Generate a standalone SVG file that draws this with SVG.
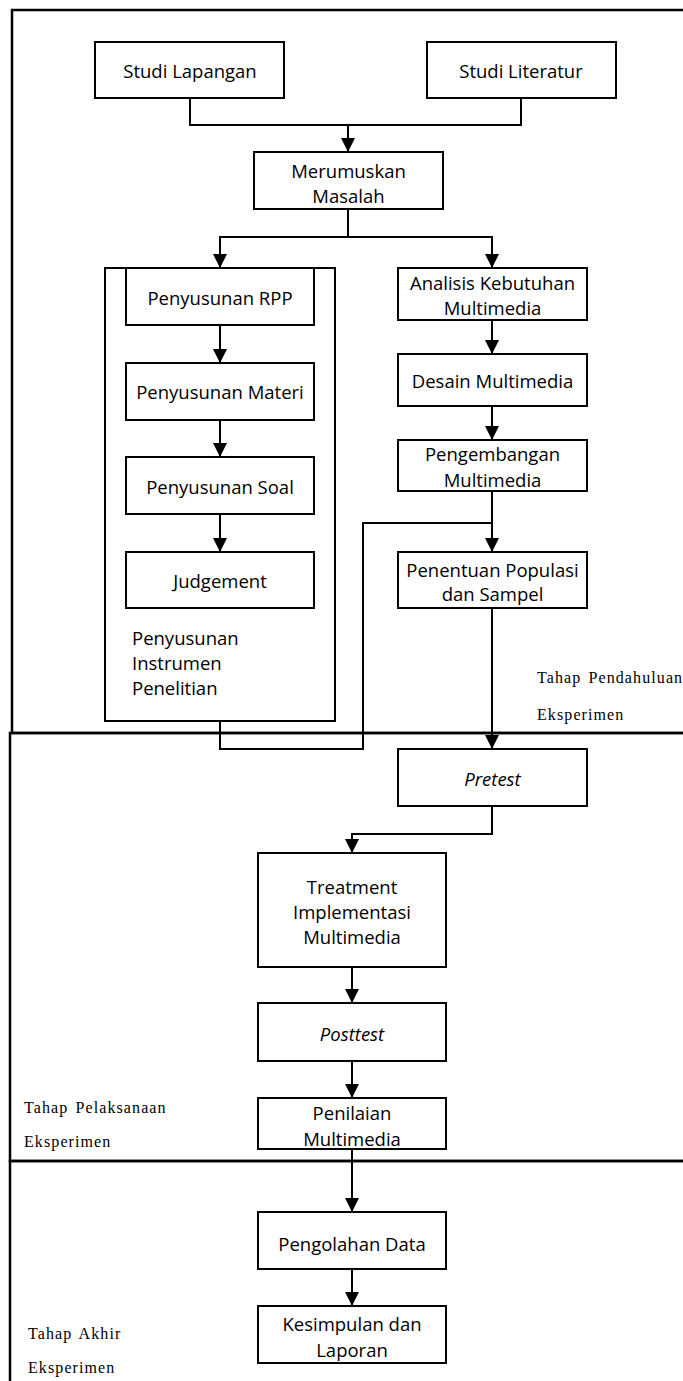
<svg xmlns="http://www.w3.org/2000/svg" width="683" height="1381" viewBox="0 0 683 1381">
<style>
.bg{fill:#ffffff}
.phase{fill:none;stroke:#000;stroke-width:2.5}
.box{fill:#fff;stroke:#000;stroke-width:2}
.cont{fill:none;stroke:#000;stroke-width:2}
.t{font-family:"Open Sans","Noto Sans",sans-serif;font-size:18.5px;fill:#000;text-anchor:middle;dominant-baseline:central}
.tl{font-family:"Open Sans","Noto Sans",sans-serif;font-size:18.5px;fill:#000;dominant-baseline:central}
.it{font-style:italic}
.ph{font-family:"Liberation Serif","Times New Roman",serif;font-size:16px;fill:#000;letter-spacing:1.1px;word-spacing:2px}
.c{fill:none;stroke:#000;stroke-width:2}
.a{marker-end:url(#arr)}
</style>
<defs>
<marker id="arr" markerUnits="userSpaceOnUse" markerWidth="14" markerHeight="14" viewBox="0 0 14 14" refX="14" refY="7" orient="auto">
<path d="M0,0 L14,7 L0,14 z" fill="#000"/>
</marker>
</defs>
<rect class="bg" x="0" y="0" width="683" height="1381"/>

<g id="phases">
<rect id="phase-pendahuluan" class="phase" x="12" y="10" width="700" height="723"/>
<rect id="phase-pelaksanaan" class="phase" x="10" y="733" width="700" height="428"/>
<rect id="phase-akhir" class="phase" x="10" y="1161" width="700" height="300"/>
<text class="ph" x="537" y="683">Tahap Pendahuluan</text>
<text class="ph" x="537" y="720">Eksperimen</text>
<text class="ph" x="24" y="1113">Tahap Pelaksanaan</text>
<text class="ph" x="24" y="1147">Eksperimen</text>
<text class="ph" x="28" y="1339">Tahap Akhir</text>
<text class="ph" x="28" y="1373">Eksperimen</text>
</g>

<g id="instrumen-container">
<rect class="cont" x="105" y="268" width="230" height="453"/>
<text class="tl" x="132" y="637">Penyusunan</text>
<text class="tl" x="132" y="662">Instrumen</text>
<text class="tl" x="132" y="687">Penelitian</text>
</g>

<g id="connectors">
<path class="c" d="M190,98 V125 H521 V98"/>
<path class="c a" d="M348,125 V152"/>
<path class="c" d="M348,209 V237"/>
<path class="c a" d="M348,237 H220 V268"/>
<path class="c a" d="M348,237 H492 V268"/>
<path class="c a" d="M220,325 V363"/>
<path class="c a" d="M220,420 V457"/>
<path class="c a" d="M220,514 V552"/>
<path class="c a" d="M492,320 V354"/>
<path class="c a" d="M492,406 V440"/>
<path class="c a" d="M492,491 V552"/>
<path class="c" d="M220,721 V749 H363 V523 H492"/>
<path class="c a" d="M492,608 V749"/>
<path class="c a" d="M492,806 V834 H352 V853"/>
<path class="c a" d="M352,967 V1003"/>
<path class="c a" d="M352,1061 V1098"/>
<path class="c a" d="M352,1149 V1212"/>
<path class="c a" d="M352,1269 V1306"/>
</g>

<g id="studi-lapangan">
<rect class="box" x="95" y="42" width="189" height="56"/>
<text class="t" x="190" y="70">Studi Lapangan</text>
</g>
<g id="studi-literatur">
<rect class="box" x="427" y="42" width="189" height="56"/>
<text class="t" x="521" y="70">Studi Literatur</text>
</g>
<g id="merumuskan-masalah">
<rect class="box" x="254" y="152" width="189" height="57"/>
<text class="t" x="348.5" y="170">Merumuskan</text>
<text class="t" x="348.5" y="195">Masalah</text>
</g>
<g id="penyusunan-rpp">
<rect class="box" x="126" y="268" width="188" height="57"/>
<text class="t" x="220" y="297">Penyusunan RPP</text>
</g>
<g id="penyusunan-materi">
<rect class="box" x="126" y="363" width="188" height="57"/>
<text class="t" x="220" y="391">Penyusunan Materi</text>
</g>
<g id="penyusunan-soal">
<rect class="box" x="126" y="457" width="188" height="57"/>
<text class="t" x="220" y="486">Penyusunan Soal</text>
</g>
<g id="judgement">
<rect class="box" x="126" y="552" width="188" height="56"/>
<text class="t" x="220" y="580">Judgement</text>
</g>
<g id="analisis-kebutuhan">
<rect class="box" x="398" y="268" width="189" height="52"/>
<text class="t" x="492.5" y="282">Analisis Kebutuhan</text>
<text class="t" x="492.5" y="307">Multimedia</text>
</g>
<g id="desain-multimedia">
<rect class="box" x="398" y="354" width="189" height="52"/>
<text class="t" x="492.5" y="380">Desain Multimedia</text>
</g>
<g id="pengembangan-multimedia">
<rect class="box" x="398" y="440" width="189" height="51"/>
<text class="t" x="492.5" y="453">Pengembangan</text>
<text class="t" x="492.5" y="479">Multimedia</text>
</g>
<g id="penentuan-populasi">
<rect class="box" x="398" y="552" width="189" height="56"/>
<text class="t" x="492.5" y="569">Penentuan Populasi</text>
<text class="t" x="492.5" y="593">dan Sampel</text>
</g>
<g id="pretest">
<rect class="box" x="398" y="749" width="189" height="57"/>
<text class="t it" x="492.5" y="778">Pretest</text>
</g>
<g id="treatment">
<rect class="box" x="258" y="853" width="188" height="114"/>
<text class="t" x="352" y="886">Treatment</text>
<text class="t" x="352" y="911">Implementasi</text>
<text class="t" x="352" y="936">Multimedia</text>
</g>
<g id="posttest">
<rect class="box" x="258" y="1003" width="188" height="58"/>
<text class="t it" x="352" y="1033">Posttest</text>
</g>
<g id="penilaian-multimedia">
<rect class="box" x="258" y="1098" width="188" height="51"/>
<text class="t" x="352" y="1112">Penilaian</text>
<text class="t" x="352" y="1138">Multimedia</text>
</g>
<g id="pengolahan-data">
<rect class="box" x="258" y="1212" width="188" height="57"/>
<text class="t" x="352" y="1243">Pengolahan Data</text>
</g>
<g id="kesimpulan-laporan">
<rect class="box" x="258" y="1306" width="188" height="57"/>
<text class="t" x="352" y="1323">Kesimpulan dan</text>
<text class="t" x="352" y="1349">Laporan</text>
</g>
</svg>
